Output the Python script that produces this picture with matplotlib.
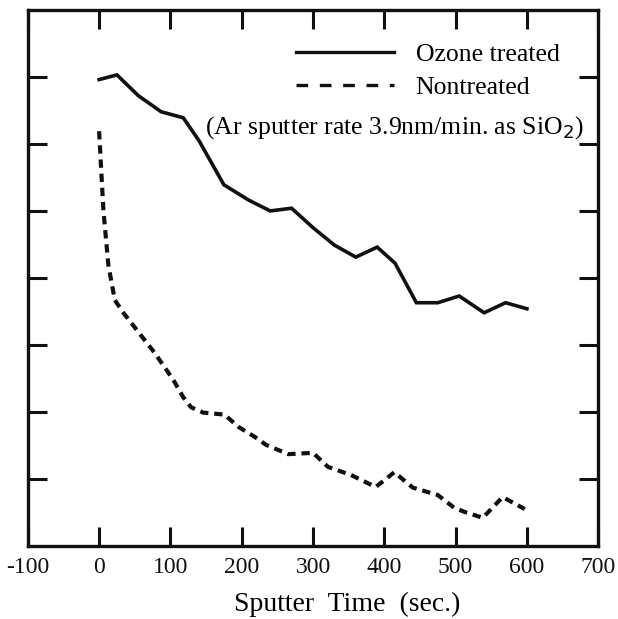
import numpy as np
import matplotlib.pyplot as plt
from matplotlib.lines import Line2D

plt.rcParams['font.family'] = ['Liberation Serif', 'DejaVu Serif']

# Ozone treated (solid line)
ozone_t = [0, 25, 55, 87, 118, 140, 175, 210, 240, 270, 300, 330, 360, 390, 415, 445, 475, 505, 540, 570, 600]
ozone_y = [6.96, 7.03, 6.72, 6.48, 6.39, 6.05, 5.39, 5.16, 5.00, 5.04, 4.75, 4.49, 4.31, 4.46, 4.22, 3.63, 3.63, 3.73, 3.48, 3.63, 3.54]

# Nontreated (dashed line)
non_t = [0, 6, 13, 22, 34, 45, 78, 104, 118, 129, 146, 176, 195, 218, 234, 265, 300,
         321, 353, 388, 414, 440, 475, 498, 512, 538, 566, 597]
non_y = [6.19, 5.01, 4.19, 3.67, 3.48, 3.33, 2.88, 2.48, 2.22, 2.07, 1.99, 1.96, 1.78, 1.63, 1.51, 1.37, 1.39,
         1.18, 1.06, 0.88, 1.10, 0.87, 0.76, 0.57, 0.51, 0.42, 0.73, 0.55]

x_ticks = [-100, 0, 100, 200, 300, 400, 500, 600, 700]
y_ticks = [1, 2, 3, 4, 5, 6, 7]

fig = plt.figure(figsize=(6.18, 6.19), dpi=100)
ax = fig.add_axes([0.045, 0.118, 0.923, 0.866])

ax.plot(ozone_t, ozone_y, color='#111', lw=2.6, solid_joinstyle='miter')
ax.plot(non_t, non_y, color='#111', lw=3.0, dashes=(2.0, 1.4))

ax.set_xlim(-100, 700)
ax.set_ylim(0, 8)
ax.set_xticks(x_ticks)
ax.set_xticklabels([str(v) for v in x_ticks])
ax.set_yticks(y_ticks)
ax.set_yticklabels([])

ax.tick_params(direction='in', length=13.5, width=2.2, top=True, right=True,
               labelsize=17, pad=8, colors='#111')
for s in ax.spines.values():
    s.set_linewidth(2.4)
    s.set_color('#111')

ax.set_xlabel('Sputter  Time  (sec.)', fontsize=20)
ax.xaxis.set_label_coords(0.56, -0.085)

handles = [Line2D([], [], color='#111', lw=2.4),
           Line2D([], [], color='#111', lw=2.4, dashes=(3.5, 3.5))]
ax.legend(handles, ['Ozone treated', 'Nontreated'], loc='upper left',
          bbox_to_anchor=(0.43, 0.981), frameon=False, fontsize=18.5,
          handlelength=3.8, handletextpad=0.85, labelspacing=0.37)

ax.text(0.31, 0.780, '(Ar sputter rate 3.9nm/min. as SiO$_2$)', transform=ax.transAxes,
        fontsize=18.5, va='center', ha='left')

fig.savefig('out.png', dpi=100)
